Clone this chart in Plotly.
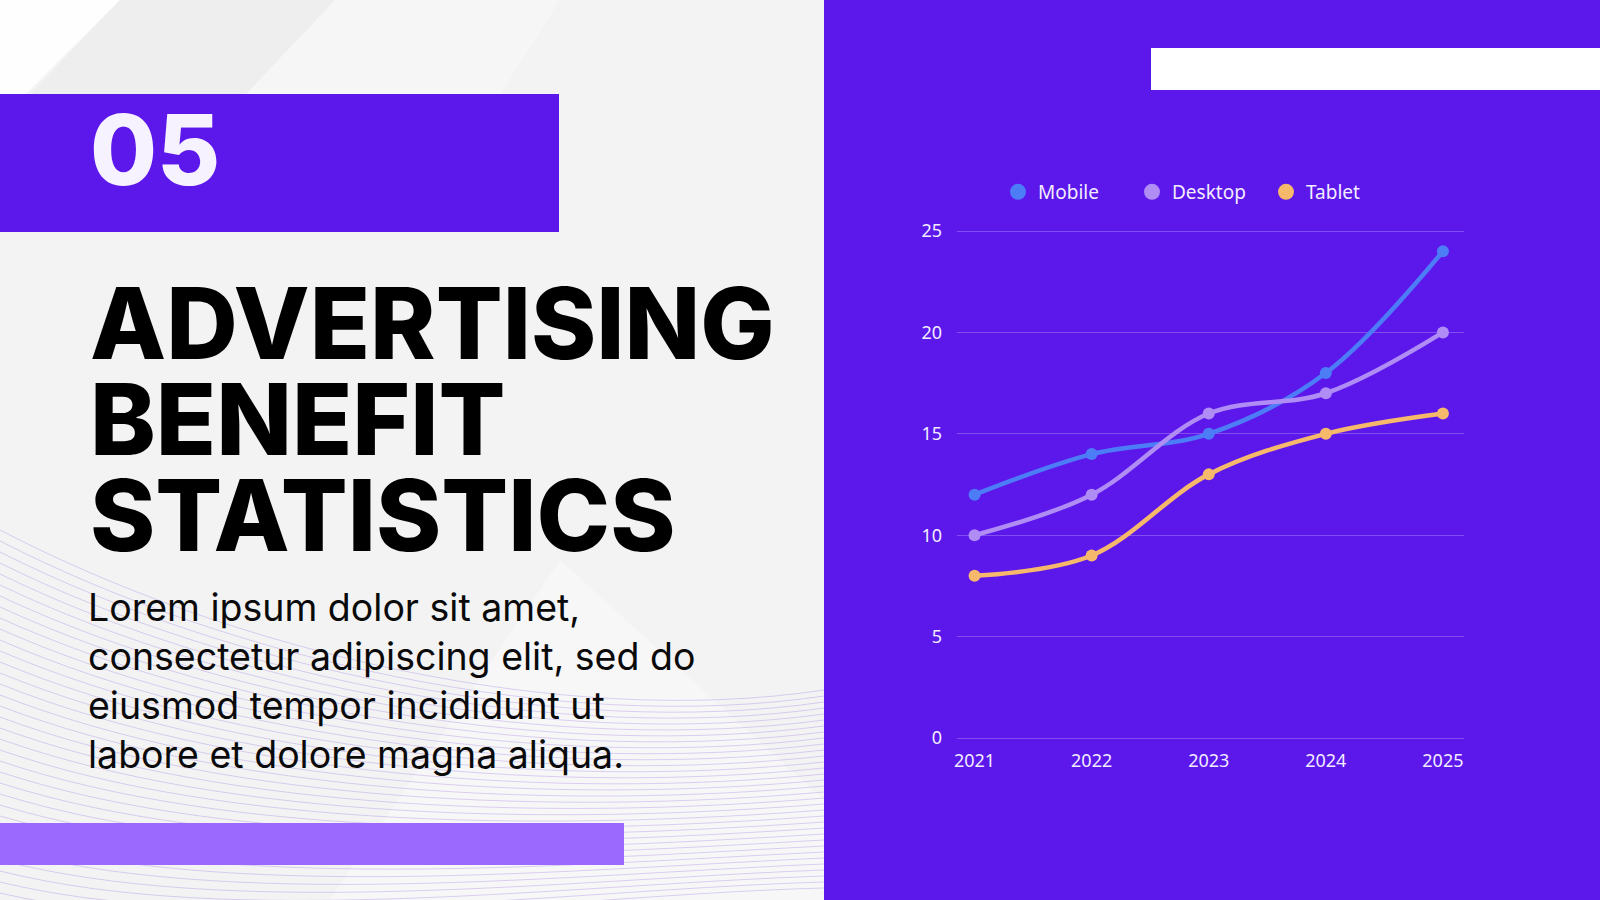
import plotly.graph_objects as go

W, H = 1600, 900

years = ["2021", "2022", "2023", "2024", "2025"]
mobile = [12, 14, 15, 18, 24]
desktop = [10, 12, 16, 17, 20]
tablet = [8, 9, 13, 15, 16]
y_ticks = [0, 5, 10, 15, 20, 25]

title_lines = ["ADVERTISING", "BENEFIT", "STATISTICS"]
body_lines = [
    "Lorem ipsum dolor sit amet,",
    "consectetur adipiscing elit, sed do",
    "eiusmod tempor incididunt ut",
    "labore et dolore magna aliqua.",
]

PURPLE = "#5C17EB"
LIGHT_PURPLE = "#9B69FD"
C_MOBILE = "#4C7DF6"
C_DESKTOP = "#B08DF4"
C_TABLET = "#F6B86A"


def px(x):
    return x / W


def py(y):
    return 1 - y / H


series = [("Mobile", mobile, C_MOBILE), ("Desktop", desktop, C_DESKTOP), ("Tablet", tablet, C_TABLET)]

fig = go.Figure()
for name, vals, col in series:
    fig.add_trace(go.Scatter(
        x=years, y=vals, name=name, mode="lines+markers",
        line=dict(color=col, width=4.5, shape="spline", smoothing=1.0),
        marker=dict(color=col, size=12),
        showlegend=False,
    ))
# legend entries as plain dots
for name, vals, col in series:
    fig.add_trace(go.Scatter(
        x=[None], y=[None], name=name, mode="markers",
        marker=dict(color=col, size=20), showlegend=True,
    ))

shapes = []
# left background
shapes.append(dict(type="rect", xref="paper", yref="paper", x0=0, x1=px(824), y0=0, y1=1,
                   fillcolor="#F3F3F4", line_width=0, layer="below"))
# soft diagonal panels top-left
shapes.append(dict(type="path", xref="paper", yref="paper",
                   path=f"M 0 1 L {px(120)} 1 L 0 {py(120)} Z",
                   fillcolor="#FFFFFF", line_width=0, layer="below", opacity=0.9))
shapes.append(dict(type="path", xref="paper", yref="paper",
                   path=f"M {px(120)} 1 L {px(335)} 1 L {px(245)} {py(95)} L {px(30)} {py(95)} Z",
                   fillcolor="#EBEBEC", line_width=0, layer="below", opacity=0.7))
shapes.append(dict(type="path", xref="paper", yref="paper",
                   path=f"M {px(335)} 1 L {px(560)} 1 L {px(500)} {py(95)} L {px(245)} {py(95)} Z",
                   fillcolor="#F6F6F7", line_width=0, layer="below", opacity=0.8))
shapes.append(dict(type="path", xref="paper", yref="paper",
                   path=f"M {px(560)} {py(560)} L {px(824)} {py(800)} L {px(824)} {py(900)} L {px(330)} {py(900)} Z",
                   fillcolor="#F8F8F9", line_width=0, layer="below", opacity=0.8))

# decorative wave lines lower-left
for i in range(34):
    y0 = 530 + i * 11
    y_end = 690 + i * 6
    c1 = (230, y0 + 120 - i * 2)
    c2 = (560, 730 + i * 5)
    path = (f"M 0 {py(y0)} C {px(c1[0])} {py(c1[1])} {px(c2[0])} {py(c2[1])} "
            f"{px(824)} {py(y_end)}")
    shapes.append(dict(type="path", xref="paper", yref="paper", path=path,
                       line=dict(color="rgba(150,110,220,0.3)", width=1), layer="below"))

# right purple panel
shapes.append(dict(type="rect", xref="paper", yref="paper", x0=px(824), x1=1, y0=0, y1=1,
                   fillcolor=PURPLE, line_width=0, layer="below"))
# white bar top right
shapes.append(dict(type="rect", xref="paper", yref="paper", x0=px(1151), x1=1, y0=py(90), y1=py(48),
                   fillcolor="#FFFFFF", line_width=0, layer="above"))
# "05" box
shapes.append(dict(type="rect", xref="paper", yref="paper", x0=0, x1=px(559), y0=py(232), y1=py(94),
                   fillcolor=PURPLE, line_width=0, layer="below"))
# bottom light purple bar
shapes.append(dict(type="rect", xref="paper", yref="paper", x0=0, x1=px(624), y0=py(865), y1=py(823),
                   fillcolor=LIGHT_PURPLE, line_width=0, layer="above"))

annotations = []
annotations.append(dict(text="05", xref="paper", yref="paper", x=px(88), y=py(150),
                        xanchor="left", yanchor="middle", showarrow=False,
                        font=dict(family="Inter", size=97, color="#F7F2FF", weight=800)))
for i, line in enumerate(title_lines):
    annotations.append(dict(text=line, xref="paper", yref="paper", x=px(88), y=py(323 + i * 96),
                            xanchor="left", yanchor="middle", showarrow=False,
                            font=dict(family="Inter", size=99, color="#000000", weight=800)))
for i, line in enumerate(body_lines):
    annotations.append(dict(text=line, xref="paper", yref="paper", x=px(86), y=py(607 + i * 49),
                            xanchor="left", yanchor="middle", showarrow=False,
                            font=dict(family="Inter", size=37.5, color="#0A0A0A")))

fig.update_layout(
    width=W, height=H,
    margin=dict(l=0, r=0, t=0, b=0, pad=0, autoexpand=False),
    paper_bgcolor="#F3F3F4",
    plot_bgcolor="rgba(0,0,0,0)",
    shapes=shapes,
    annotations=annotations,
    font=dict(family="Noto Sans", color="#F2ECFF", size=18),
    legend=dict(orientation="h", x=px(998), y=py(192), xanchor="left", yanchor="middle",
                font=dict(size=19, color="#F2ECFF"), bgcolor="rgba(0,0,0,0)",
                itemsizing="trace", entrywidth=89, entrywidthmode="pixels"),
    xaxis=dict(domain=[px(957), px(1464)], type="category", range=[-0.15, 4.18],
               showgrid=False, zeroline=False, showline=False, ticks="", automargin=False,
               ticklabelstandoff=10, tickfont=dict(size=18, color="#F2ECFF")),
    yaxis=dict(domain=[py(738), py(230)], range=[0, 25.05], tickvals=y_ticks,
               showgrid=True, gridcolor="rgba(255,255,255,0.24)", gridwidth=1,
               zeroline=True, zerolinecolor="rgba(255,255,255,0.24)", zerolinewidth=1,
               showline=False, ticks="", ticklabelstandoff=14, automargin=False,
               tickfont=dict(size=18, color="#F2ECFF")),
    showlegend=True,
)

pin_page = (
    "document.documentElement.style.margin='0';"
    "document.body.style.margin='0';document.body.style.padding='0';"
    "document.body.style.overflow='hidden';"
    "var d=document.getElementsByClassName('plotly-graph-div')[0];"
    "d.style.position='fixed';d.style.left='0px';d.style.top='0px';"
)

fig.write_html("out.html", config={"displayModeBar": False}, post_script=pin_page)
